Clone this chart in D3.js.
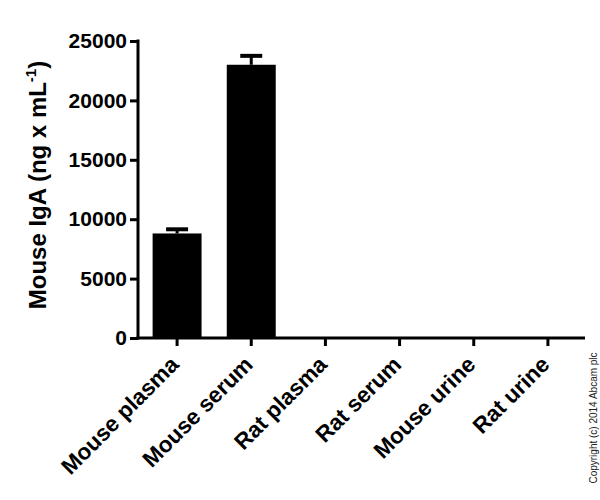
<!DOCTYPE html>
<meta charset="utf-8">
<script src="https://d3js.org/d3.v7.min.js"></script>
<style>
  body { margin: 0; background: #fff; font-family: Arial, "Liberation Sans", sans-serif; }
</style>
<div id="chart"></div>
<script>
// data
var categories = ["Mouse plasma", "Mouse serum", "Rat plasma", "Rat serum", "Mouse urine", "Rat urine"]
var means = [8800, 23000, 0, 0, 0, 0]
var upperErr = [9150, 23750, 0, 0, 0, 0]
var yTicks = [0, 5000, 10000, 15000, 20000, 25000]

var width = 600, height = 500
var margin = {top: 41, right: 15, bottom: 162, left: 138}

var svg = d3.select("#chart").append("svg")
  .attr("width", width)
  .attr("height", height)

var x = d3.scaleBand()
  .domain(categories)
  .range([margin.left + 2, width - margin.right])
  .paddingInner(0.34)
  .paddingOuter(0.17)

var y = d3.scaleLinear()
  .domain([0, 25000])
  .range([height - margin.bottom, margin.top])

// bars
svg.append("g")
  .selectAll("rect")
  .data(categories)
  .enter()
  .append("rect")
    .attr("x", function(d) { return x(d) })
    .attr("width", x.bandwidth())
    .attr("y", function(d, i) { return y(means[i]) })
    .attr("height", function(d, i) { return y(0) - y(means[i]) })
    .attr("fill", "black")

// error bars (upper only)
var errs = svg.append("g")
  .selectAll("g")
  .data(categories.filter(function(d, i) { return upperErr[i] > means[i] }))
  .enter()
  .append("g")

errs.append("line")
  .attr("x1", function(d) { return x(d) + x.bandwidth() / 2 })
  .attr("x2", function(d) { return x(d) + x.bandwidth() / 2 })
  .attr("y1", function(d) { return y(means[categories.indexOf(d)]) })
  .attr("y2", function(d) { return y(upperErr[categories.indexOf(d)]) })
  .attr("stroke", "black")
  .attr("stroke-width", 3)

errs.append("line")
  .attr("x1", function(d) { return x(d) + x.bandwidth() / 2 - 11 })
  .attr("x2", function(d) { return x(d) + x.bandwidth() / 2 + 11 })
  .attr("y1", function(d) { return y(upperErr[categories.indexOf(d)]) })
  .attr("y2", function(d) { return y(upperErr[categories.indexOf(d)]) })
  .attr("stroke", "black")
  .attr("stroke-width", 4)

// y axis
var yAxis = svg.append("g")
  .attr("transform", "translate(" + margin.left + ",0)")
  .call(d3.axisLeft(y).tickValues(yTicks).tickSize(8).tickPadding(3).tickFormat(d3.format("d")))
yAxis.select(".domain").attr("stroke-width", 3).attr("d", "M0," + (y(25000) - 1.5) + "V" + (y(0) + 1.5))
yAxis.selectAll(".tick line").attr("stroke-width", 3)
yAxis.selectAll("text")
  .attr("fill", "black")
  .style("font-size", "21px")
  .style("font-weight", "bold")
  .style("font-family", "Arial, 'Liberation Sans', sans-serif")

// x axis
var xAxis = svg.append("g")
  .attr("transform", "translate(0," + y(0) + ")")
  .call(d3.axisBottom(x).tickSize(8).tickSizeOuter(0))
xAxis.select(".domain").attr("stroke-width", 3).attr("d", "M" + (margin.left - 1.5) + ",0H" + (width - margin.right))
xAxis.selectAll(".tick line").attr("stroke-width", 3)
xAxis.selectAll("text")
  .attr("fill", "black")
  .style("font-size", "22.5px")
  .style("font-weight", "bold")
  .style("font-family", "Arial, 'Liberation Sans', sans-serif")
  .attr("text-anchor", "end")
  .attr("x", 0)
  .attr("y", 0)
  .attr("dy", 0)
  .attr("transform", "translate(3,28) rotate(-45)")

// y axis label
var yLabel = svg.append("text")
  .attr("transform", "translate(46,185) rotate(-90)")
  .attr("text-anchor", "middle")
  .style("font-size", "24px")
  .style("font-weight", "bold")
  .style("font-family", "Arial, 'Liberation Sans', sans-serif")
yLabel.append("tspan").text("Mouse IgA (ng x mL")
yLabel.append("tspan").text("-1").attr("dy", -10).style("font-size", "15px")
yLabel.append("tspan").text(")").attr("dy", 10)

// copyright
svg.append("text")
  .attr("transform", "translate(597,418) rotate(-90)")
  .attr("text-anchor", "middle")
  .style("font-size", "10px")
  .style("font-family", "Arial, 'Liberation Sans', sans-serif")
  .attr("fill", "#222")
  .text("Copyright (c) 2014 Abcam plc")
</script>
